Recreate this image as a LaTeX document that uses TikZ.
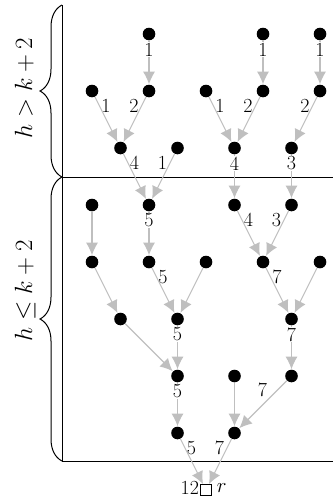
\documentclass[tikz,border=0pt]{standalone}
\usetikzlibrary{arrows.meta,decorations.pathreplacing}
\begin{document}
\begin{tikzpicture}[x=1pt,y=-1pt,
  dot/.style={circle,fill=black,minimum size=12.6pt,inner sep=0pt},
  rootbox/.style={rectangle,draw=black,fill=white,line width=0.9pt,minimum size=10.5pt,inner sep=0pt},
  arr/.style={draw=black!25,line width=1.1pt,-{Latex[length=12.5pt,width=12pt]},shorten >=0.3pt},
  lab/.style={font=\fontsize{20}{24}\selectfont,inner sep=0.5pt},
  lv/.style={lab,shift={(0,15.5)},fill=white},
  lr/.style={lab,shift={(14,15)}},
  ll/.style={lab,shift={(-15,15)}},
  frame/.style={line width=1pt,black},
  bracestyle/.style={line width=1pt,decorate,decoration={brace,amplitude=22pt}},
  side/.style={rotate=90,anchor=base,font=\fontsize{28.8}{34}\selectfont}]
\useasboundingbox (0,0) rectangle (333,498);
% frame
\draw[frame] (62,5) -- (62,461) -- (333,461);
\draw[frame] (62,177) -- (333,177);
\draw[bracestyle] (62,177) -- (62,5);
\draw[bracestyle] (62,461) -- (62,177);
\node[side] (s1) at (32,88) {$h > k + 2$};
\node[side] (s2) at (32,291) {$h \leq k + 2$};
% nodes
\foreach \r/\c in {0/2,0/6,0/8,
  1/0,1/2,1/4,1/6,1/8,
  2/1,2/3,2/5,2/7,
  3/0,3/2,3/5,3/7,
  4/0,4/2,4/4,4/6,4/8,
  5/1,5/3,5/7,
  6/3,6/5,6/7,
  7/3,7/5}
  \node[dot] (n\r\c) at ({92+28.5*\c},{34+57*\r}) {};
\node[rootbox,label={[lab,inner xsep=1pt,inner ysep=0pt,yshift=2pt]left:12},label={[lab,inner xsep=5pt,inner ysep=0pt,yshift=2pt]right:$r$}] (root) at (206,490) {};
% edges
\draw[arr] (n02) -- (n12) node[lv] (l1) at (n02) {1};
\draw[arr] (n06) -- (n16) node[lv] (l2) at (n06) {1};
\draw[arr] (n08) -- (n18) node[lv] (l3) at (n08) {1};
\draw[arr] (n10) -- (n21) node[lr] (l4) at (n10) {1};
\draw[arr] (n12) -- (n21) node[ll] (l5) at (n12) {2};
\draw[arr] (n14) -- (n25) node[lr] (l6) at (n14) {1};
\draw[arr] (n16) -- (n25) node[ll] (l7) at (n16) {2};
\draw[arr] (n18) -- (n27) node[ll] (l8) at (n18) {2};
\draw[arr] (n21) -- (n32) node[lr] (l9) at (n21) {4};
\draw[arr] (n23) -- (n32) node[ll] (l10) at (n23) {1};
\draw[arr] (n25) -- (n35) node[lv] (l11) at (n25) {4};
\draw[arr] (n27) -- (n37) node[lv] (l12) at (n27) {3};
\draw[arr] (n30) -- (n40);
\draw[arr] (n32) -- (n42) node[lv] (l13) at (n32) {5};
\draw[arr] (n35) -- (n46) node[lr] (l14) at (n35) {4};
\draw[arr] (n37) -- (n46) node[ll] (l15) at (n37) {3};
\draw[arr] (n40) -- (n51);
\draw[arr] (n42) -- (n53) node[lr] (l16) at (n42) {5};
\draw[arr] (n44) -- (n53);
\draw[arr] (n46) -- (n57) node[lr] (l17) at (n46) {7};
\draw[arr] (n48) -- (n57);
\draw[arr] (n51) -- (n63);
\draw[arr] (n53) -- (n63) node[lv] (l18) at (n53) {5};
\draw[arr] (n57) -- (n67) node[lv] (l19) at (n57) {7};
\draw[arr] (n63) -- (n73) node[lv] (l20) at (n63) {5};
\draw[arr] (n65) -- (n75);
\draw[arr] (n67) -- (n75) node[lab,shift={(-29,14)}] (l21) at (n67) {7};
\draw[arr] (n73) -- (root) node[lr] (l22) at (n73) {5};
\draw[arr] (n75) -- (root) node[ll] (l23) at (n75) {7};
\end{tikzpicture}
\end{document}
